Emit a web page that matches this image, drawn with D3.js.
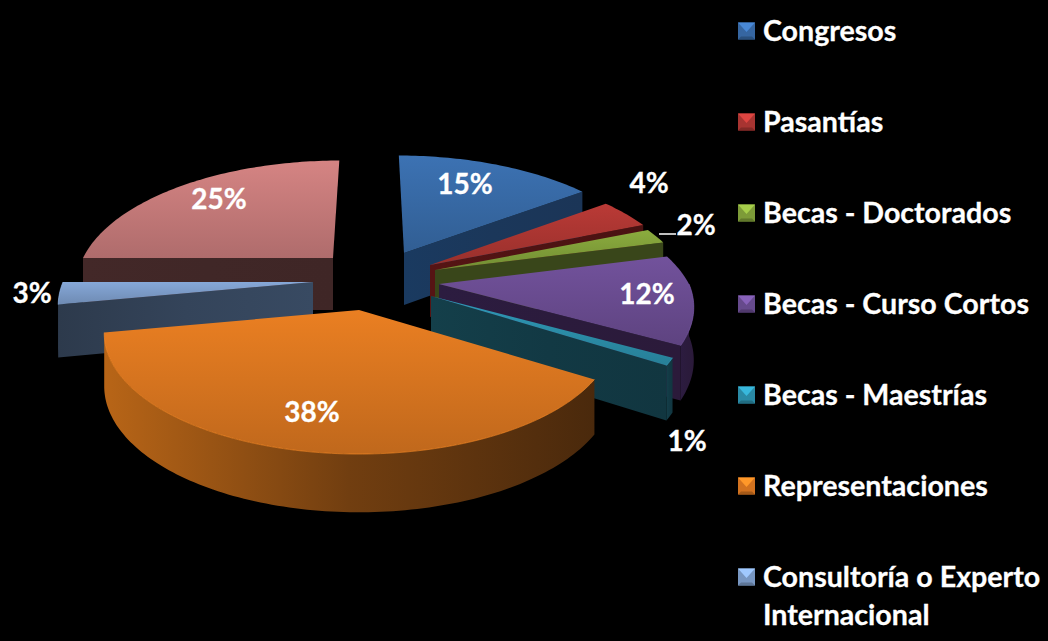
<!DOCTYPE html>
<meta charset="utf-8">
<script src="https://d3js.org/d3.v7.min.js"></script>
<style>
  html, body { margin: 0; background: #000; }
  svg { display: block; }
  text { font-family: Lato, sans-serif; font-weight: 700; fill: #fff; stroke: #fff; stroke-width: 0.3px; }
</style>
<svg></svg>
<script>

// DATA

var categories = ["Congresos", "Pasantías", "Becas - Doctorados", "Becas - Curso Cortos",
                  "Becas - Maestrías", "Representaciones", "Consultoría o Experto\nInternacional"];
// the last slice has no legend entry in the picture, the legend runs off the page
var values = [15, 4, 2, 12, 1, 38, 3, 25];
var valueLabels = ["15%", "4%", "2%", "12%", "1%", "38%", "3%", "25%"];

// STYLE

var topColors  = ["#3c72b3", "#ba3a36", "#8bac3e", "#72529c", "#2f9ab8", "#ea7f22", "#86a8d8", "#d58483"];
var wallStart  = ["#1a3a60", "#561414", "#39461a", "#2c1c40", "#143f4a", "#b86517", "#2d3a4c", "#432828"];
var wallEnd    = ["#1b3557", "#4a1212", "#39461a", "#2b1a3a", "#113640", "#4a290c", "#384a62", "#3f2626"];
// how far each slice is pulled away from the centre, on screen
var explodeX   = [32, 58, 63, 67, 59, -13, -59, -39];
var explodeY   = [-27, -15, -10, 4, 16, 30, 2, -22];
var labelDx    = [61, 219, 261, 208, 256, -47, -281, -114];
var labelDy    = [-69, -82, -45, 10, 145, 102, 11, -59];

// slices are painted from the back to the front
var paintOrder = [7, 6, 0, 1, 2, 3, 4, 5];

var width = 1048;
var height = 641;
var center = { x: 372, y: 280 };
var radius = 250;
var tilt = 0.465;
var persp = 0.193;
var depth = 52;


// SVG SETUP

var svg = d3.select("svg")
    .attr("width", width)
    .attr("height", height);

var defs = svg.append("defs");

function gradient(id, x2, y2, stops) {
    var g = defs.append("linearGradient")
        .attr("id", id)
        .attr("x1", 0).attr("y1", 0)
        .attr("x2", x2).attr("y2", y2);
    stops.forEach(function(c, i) {
        g.append("stop")
            .attr("offset", i / (stops.length - 1))
            .attr("stop-color", c);
    });
}


// PIE LAYOUT

var arcs = d3.pie().sort(null)(values);

var slices = arcs.map(function(d, i) {
    return {
        i: i,
        a0: d.startAngle,
        a1: d.endAngle,
        apex: { x: center.x + explodeX[i], y: center.y + explodeY[i] }
    };
});

function project(s, a, r, down) {
    var X = r * Math.sin(a);
    var Z = r * Math.cos(a);
    var k = 1 / (1 + persp * Z);
    return [
        s.apex.x + X * radius * k + (s.apex.x - center.x) * Math.min(k - 1, 0),
        s.apex.y - Z * radius * tilt * k + (down ? depth * (1 + (k - 1) * 0.5) : 0)
    ];
}

function sweep(a0, a1) {
    var n = Math.max(2, Math.ceil((a1 - a0) / 0.02));
    return d3.range(n + 1).map(function(j) { return a0 + (a1 - a0) * j / n; });
}

var line = d3.line();

function topPath(s) {
    var pts = [project(s, 0, 0, false)];
    sweep(s.a0, s.a1).forEach(function(a) { pts.push(project(s, a, 1, false)); });
    return line(pts) + "Z";
}

function radialWall(s, a) {
    return line([
        project(s, a, 0, false),
        project(s, a, 1, false),
        project(s, a, 1, true),
        project(s, a, 0, true)
    ]) + "Z";
}

function outerWall(s, a0, a1) {
    var angles = sweep(a0, a1);
    var upper = angles.map(function(a) { return project(s, a, 1, false); });
    var lower = angles.reverse().map(function(a) { return project(s, a, 1, true); });
    return line(upper.concat(lower)) + "Z";
}


// PAINT THE SLICES

var plot = svg.append("g");

paintOrder.forEach(function(i) {
    var s = slices[i];
    var g = plot.append("g");

    gradient("top" + i, 0, 1, [topColors[i], d3.color(topColors[i]).darker(0.55).formatHex()]);
    gradient("wall" + i, 1, 0, [wallStart[i], d3.interpolateRgb(wallStart[i], wallEnd[i])(0.65), wallEnd[i]]);

    // outer wall, only the part that faces the viewer
    var w0 = Math.max(s.a0, Math.PI / 2);
    var w1 = Math.min(s.a1, Math.PI * 1.5);
    if (w1 > w0) {
        g.append("path")
            .attr("d", outerWall(s, w0, w1))
            .attr("fill", "url(#wall" + i + ")");
    }

    // cut faces
    if (Math.sin(s.a0) < -0.01) {
        g.append("path")
            .attr("d", radialWall(s, s.a0))
            .attr("fill", "url(#wall" + i + ")");
    }
    if (Math.sin(s.a1) > 0.01) {
        g.append("path")
            .attr("d", radialWall(s, s.a1))
            .attr("fill", "url(#wall" + i + ")");
    }

    g.append("path")
        .attr("d", topPath(s))
        .attr("fill", "url(#top" + i + ")");

    // light rim on the front edge
    if (w1 > w0) {
        g.append("path")
            .attr("d", line(sweep(w0, w1).map(function(a) { return project(s, a, 1, false); })))
            .attr("fill", "none")
            .attr("stroke", d3.color(topColors[i]).brighter(0.3).formatHex())
            .attr("stroke-opacity", 0.6)
            .attr("stroke-width", 1);
    }
});


// VALUE LABELS

slices.forEach(function(s) {
    svg.append("text")
        .attr("x", s.apex.x + labelDx[s.i])
        .attr("y", s.apex.y + labelDy[s.i])
        .attr("dy", "0.35em")
        .attr("text-anchor", "middle")
        .style("font-size", "28px")
        .text(valueLabels[s.i]);
});

// the short leader next to 2%
var small = slices[2];
svg.append("line")
    .attr("x1", small.apex.x + labelDx[2] - 37)
    .attr("x2", small.apex.x + labelDx[2] - 20)
    .attr("y1", small.apex.y + labelDy[2] + 9)
    .attr("y2", small.apex.y + labelDy[2] + 9)
    .attr("stroke", "#fff")
    .attr("stroke-width", 1.5);


// LEGEND

var legendY = d3.scalePoint()
    .domain(categories)
    .range([31, 577]);

var legend = svg.selectAll(".legend")
    .data(categories)
    .enter().append("g")
        .attr("class", "legend")
        .attr("transform", function(d) { return "translate(738," + legendY(d) + ")"; });

var sw = 17;

legend.append("rect")
    .attr("y", -sw / 2)
    .attr("width", sw)
    .attr("height", sw)
    .attr("fill", function(d, i) { return d3.color(topColors[i]).darker(0.3).formatHex(); });

legend.append("path")
    .attr("d", line([[0, -sw / 2], [sw, -sw / 2], [sw / 2, 1]]) + "Z")
    .attr("fill", function(d, i) { return d3.color(topColors[i]).brighter(0.5).formatHex(); });

legend.append("path")
    .attr("d", line([[0, sw / 2], [sw, sw / 2], [sw - 3, sw / 2 - 3], [3, sw / 2 - 3]]) + "Z")
    .attr("fill", function(d, i) { return d3.color(topColors[i]).darker(1).formatHex(); });

var legendText = legend.append("text")
    .attr("x", 25)
    .attr("y", 0)
    .attr("dy", "0.35em")
    .style("font-size", "28.6px");

legendText.selectAll("tspan")
    .data(function(d) { return d.split("\n"); })
    .enter().append("tspan")
        .attr("x", 25)
        .attr("dy", function(d, i) { return i ? "38px" : null; })
        .text(function(d) { return d; });

</script>
